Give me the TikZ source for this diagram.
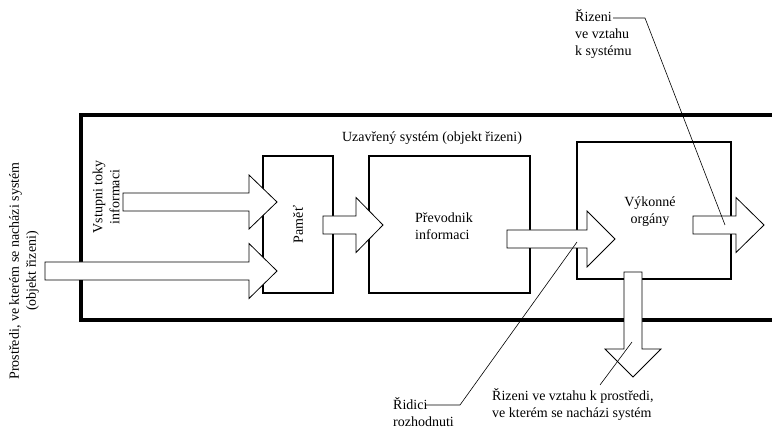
\documentclass[tikz,border=0pt]{standalone}
\usepackage{fontspec}
\setmainfont{Liberation Serif}
\newcommand\arrowR[6]{% x0 base tip cy shaft-half head-half
  \draw[bigarrow] (#1,#4-#5) -- (#2,#4-#5) -- (#2,#4-#6) -- (#3,#4) -- (#2,#4+#6) -- (#2,#4+#5) -- (#1,#4+#5) -- cycle;}
\newcommand\arrowD[6]{% y0 base tip cx shaft-half head-half
  \draw[bigarrow] (#4-#5,#1) -- (#4-#5,#2) -- (#4-#6,#2) -- (#4,#3) -- (#4+#6,#2) -- (#4+#5,#2) -- (#4+#5,#1) -- cycle;}
\begin{document}
\begin{tikzpicture}[x=1pt,y=-1pt,
  outer/.style={line width=4pt},
  box/.style={draw,line width=1.8pt,inner sep=0pt},
  bigarrow/.style={draw,fill=white,line width=0.8pt,miter limit=20},
  lead/.style={line width=0.6pt},
  lbl/.style={font=\fontsize{14}{17}\selectfont,inner sep=0pt,align=left},
  clbl/.style={font=\fontsize{14}{17}\selectfont,inner sep=0pt,align=center}]
\useasboundingbox (0,0) rectangle (772,430);
\fill[white] (0,0) rectangle (772,430);
% closed system
\draw[outer] (790,115) -- (81,115) -- (81,320) -- (790,320);
% boxes
\node[box,minimum width=70pt,minimum height=137pt] (mem) at (298,224.5) {};
\node[box,minimum width=161pt,minimum height=137pt] (conv) at (449.5,224.5) {};
\node[box,minimum width=154pt,minimum height=137pt] (exec) at (654,210.5) {};
% big arrows
\arrowR{123}{249}{277}{202}{9}{27}
\arrowR{45}{249}{277}{271}{9}{27.5}
\arrowR{323}{356}{383}{225}{9}{27.5}
\arrowR{507}{587}{615}{239}{9}{28}
\arrowR{693}{736}{764}{225}{9}{27.5}
\arrowD{272}{349}{377}{633}{9}{28}
% texts
\node[clbl] (title) at (432,138) {Uzavřený systém (objekt řizeni)};
\node[clbl,rotate=90] (memt) at (mem.center) {Paměť};
\node[lbl,anchor=west] (convt) at (415,226) {Převodnik\\informaci};
\node[clbl] (exect) at (650,212) {Výkonné\\orgány};
\node[clbl,rotate=90] (inp) at (106,197) {Vstupni toky\\informaci};
\node[clbl,rotate=90] (env) at (24,271) {Prostředi, ve kterém se nacházi systém\\(objekt řizeni)};
\node[lbl,anchor=west] (sysc) at (575,34) {Řizeni\\ve vztahu\\k systému};
\node[lbl,anchor=west] (dec) at (393,412.5) {Řidici\\rozhodnuti};
\node[lbl,anchor=west] (envc) at (492,404) {Řizeni ve vztahu k prostředi,\\ve kterém se nacházi systém};
% leaders
\coordinate (l1a) at (613,18);
\coordinate (l1b) at (645,18);
\coordinate (l1c) at (725,225);
\draw[lead] (l1a) -- (l1b) -- (l1c);
\coordinate (l2a) at (425,405);
\coordinate (l2b) at (460,405);
\coordinate (l2c) at (577,242);
\draw[lead] (l2a) -- (l2b) -- (l2c);
\coordinate (l3a) at (600,385);
\coordinate (l3b) at (632,342);
\draw[lead] (l3a) -- (l3b);
\end{tikzpicture}
\end{document}
